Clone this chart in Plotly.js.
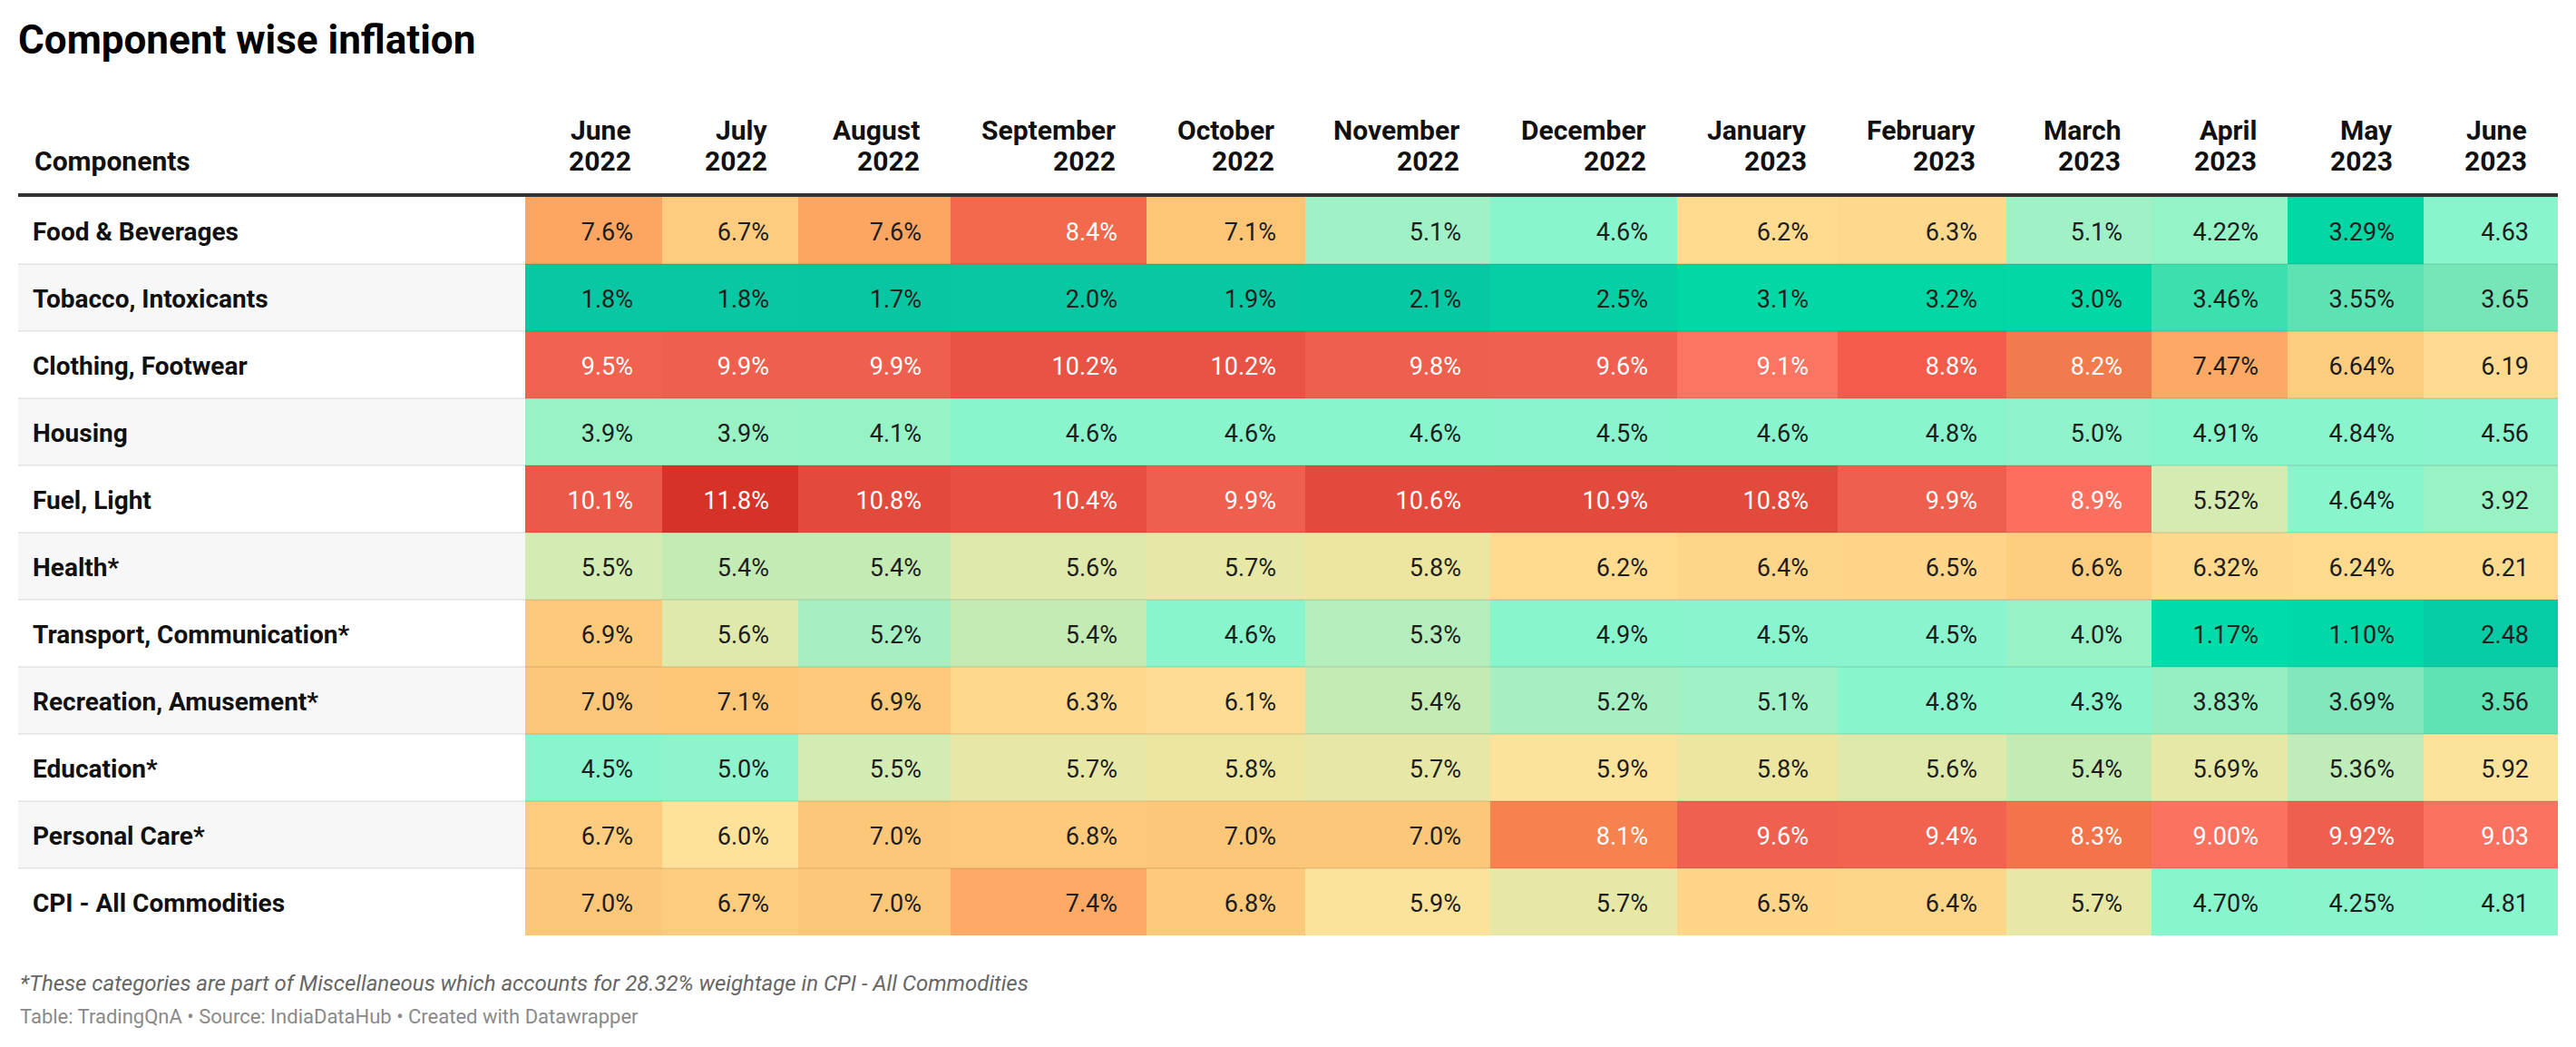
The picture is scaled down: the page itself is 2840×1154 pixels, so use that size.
<!DOCTYPE html>
<html>
<head>
<meta charset="utf-8">
<script src="https://cdn.plot.ly/plotly-3.0.1.min.js"></script>
<style>
html,body{margin:0;padding:0;background:#ffffff;}
#chart{width:2840px;height:1154px;}
</style>
</head>
<body>
<div id="chart"></div>
<script>
// ---------- DATA ----------
const components = [
  "Food & Beverages",
  "Tobacco, Intoxicants",
  "Clothing, Footwear",
  "Housing",
  "Fuel, Light",
  "Health*",
  "Transport, Communication*",
  "Recreation, Amusement*",
  "Education*",
  "Personal Care*",
  "CPI - All Commodities"
];
const months = [
  "June<br>2022", "July<br>2022", "August<br>2022", "September<br>2022",
  "October<br>2022", "November<br>2022", "December<br>2022", "January<br>2023",
  "February<br>2023", "March<br>2023", "April<br>2023", "May<br>2023", "June<br>2023"
];
const foodBeverages   = [7.6, 6.7, 7.6, 8.4, 7.1, 5.1, 4.6, 6.2, 6.3, 5.1, 4.22, 3.29, 4.63];
const tobacco         = [1.8, 1.8, 1.7, 2.0, 1.9, 2.1, 2.5, 3.1, 3.2, 3.0, 3.46, 3.55, 3.65];
const clothing        = [9.5, 9.9, 9.9, 10.2, 10.2, 9.8, 9.6, 9.1, 8.8, 8.2, 7.47, 6.64, 6.19];
const housing         = [3.9, 3.9, 4.1, 4.6, 4.6, 4.6, 4.5, 4.6, 4.8, 5.0, 4.91, 4.84, 4.56];
const fuelLight       = [10.1, 11.8, 10.8, 10.4, 9.9, 10.6, 10.9, 10.8, 9.9, 8.9, 5.52, 4.64, 3.92];
const health          = [5.5, 5.4, 5.4, 5.6, 5.7, 5.8, 6.2, 6.4, 6.5, 6.6, 6.32, 6.24, 6.21];
const transport       = [6.9, 5.6, 5.2, 5.4, 4.6, 5.3, 4.9, 4.5, 4.5, 4.0, 1.17, 1.10, 2.48];
const recreation      = [7.0, 7.1, 6.9, 6.3, 6.1, 5.4, 5.2, 5.1, 4.8, 4.3, 3.83, 3.69, 3.56];
const education       = [4.5, 5.0, 5.5, 5.7, 5.8, 5.7, 5.9, 5.8, 5.6, 5.4, 5.69, 5.36, 5.92];
const personalCare    = [6.7, 6.0, 7.0, 6.8, 7.0, 7.0, 8.1, 9.6, 9.4, 8.3, 9.00, 9.92, 9.03];
const cpiAll          = [7.0, 6.7, 7.0, 7.4, 6.8, 5.9, 5.7, 6.5, 6.4, 5.7, 4.70, 4.25, 4.81];

const headerLabel = "Components";
const titleText = "Component wise inflation";
const footnoteText = "*These categories are part of Miscellaneous which accounts for 28.32% weightage in CPI - All Commodities";
const sourceText = "Table: TradingQnA • Source: IndiaDataHub • Created with Datawrapper";

// ---------- LAYOUT CONSTANTS (pixels) ----------
const W = 2840, H = 1154;
const colEdges = [579, 730, 880, 1048, 1264, 1439, 1643, 1849, 2026, 2212, 2372, 2522, 2672, 2820];
const tableLeft = 20, tableRight = 2820;
const rowTop = 217, rowH = 74;
const cellPad = 32;
const textShift = 4;              // optical centring of text in rows
const headerLineY = [143, 177];   // anchors of the two header lines

// colour scale stops [value, colour]
const colourStops = [
  [1.10, "#00d9a7"], [1.17, "#00dca9"], [1.7, "#08c6a1"], [2.1, "#06c9a3"],
  [2.48, "#05cca5"], [2.5, "#05cfa5"], [3.0, "#02d8a6"], [3.29, "#00d7a5"],
  [3.46, "#3ce0ad"], [3.55, "#5de3b3"], [3.65, "#76e6b9"], [3.69, "#80e8bc"],
  [3.83, "#96efc3"], [3.9, "#98f2c4"], [4.22, "#94f3c7"], [4.25, "#8af4cd"],
  [4.91, "#88f5cd"], [5.0, "#8ff4cb"], [5.1, "#a0f1c6"], [5.2, "#a5efc2"],
  [5.3, "#b5edbd"], [5.4, "#c5ebb5"], [5.5, "#d3ecb3"], [5.6, "#dfe9ac"],
  [5.7, "#e7e8a5"], [5.8, "#ede6a0"], [5.9, "#fbe39c"], [6.0, "#fee29a"],
  [6.1, "#fddd95"], [6.2, "#fedb8f"], [6.4, "#fed68a"], [6.5, "#fed589"],
  [6.6, "#fdce80"], [6.8, "#fdca7c"], [7.1, "#fdc677"], [7.4, "#fcaa66"],
  [7.6, "#fca662"], [8.1, "#f6824f"], [8.2, "#f27b4d"], [8.3, "#f3744b"],
  [8.4, "#f3694b"], [8.8, "#f35c4b"], [8.9, "#fc6f5e"], [9.1, "#fc7462"],
  [9.4, "#f2634f"], [9.6, "#f06050"], [9.9, "#ef5f4d"], [10.1, "#eb5a48"],
  [10.2, "#e95345"], [10.4, "#e64f41"], [10.6, "#e3493c"], [10.9, "#e24a3c"],
  [11.8, "#d63228"]
];
const zmin = colourStops[0][0], zmax = colourStops[colourStops.length - 1][0];
const colorscale = colourStops.map(([v, c]) => [(v - zmin) / (zmax - zmin), c]);

// ---------- BUILD ----------
const z = [foodBeverages, tobacco, clothing, housing, fuelLight, health,
           transport, recreation, education, personalCare, cpiAll];
const nRows = components.length, nCols = months.length;
const rowEdges = Array.from({length: nRows + 1}, (_, i) => rowTop + i * rowH);
const rowCenter = i => rowTop + i * rowH + rowH / 2 + textShift;

const fmt = (v, j) => v.toFixed(j >= 10 ? 2 : 1) + (j === nCols - 1 ? "" : "%");

const cx = [], cy = [], ct = [], cc = [];
z.forEach((row, i) => row.forEach((v, j) => {
  cx.push(colEdges[j + 1] - cellPad);
  cy.push(rowCenter(i));
  ct.push(fmt(v, j));
  cc.push(v >= 8 ? "#ffffff" : "#1d1d1d");
}));

const FONT = "Roboto, 'Noto Sans', sans-serif";

const traces = [
  {
    type: "heatmap",
    x: colEdges, y: rowEdges, z: z,
    colorscale: colorscale, zmin: zmin, zmax: zmax,
    showscale: false, hoverinfo: "skip", zsmooth: false
  },
  {
    type: "scatter", mode: "text",
    x: cx, y: cy, text: ct,
    textposition: "middle left",
    textfont: {family: FONT, size: 27, color: cc},
    hoverinfo: "skip", cliponaxis: false, showlegend: false
  },
  {
    type: "scatter", mode: "text",
    x: components.map(() => 36), y: components.map((_, i) => rowCenter(i)),
    text: components,
    textposition: "middle right",
    textfont: {family: FONT, size: 28, color: "#111111", weight: 700},
    hoverinfo: "skip", cliponaxis: false, showlegend: false
  }
];

const shapes = [];
components.forEach((_, i) => {
  if (i % 2 === 1) {
    shapes.push({type: "rect", layer: "below", xref: "x", yref: "y",
      x0: tableLeft, x1: colEdges[0], y0: rowEdges[i], y1: rowEdges[i + 1],
      fillcolor: "#f7f7f7", line: {width: 0}});
  }
});
for (let i = 1; i < nRows; i++) {
  shapes.push({type: "line", layer: "above", xref: "x", yref: "y",
    x0: tableLeft, x1: tableRight, y0: rowEdges[i], y1: rowEdges[i],
    line: {color: "rgba(0,0,0,0.07)", width: 2}});
}
shapes.push({type: "line", layer: "above", xref: "x", yref: "y",
  x0: tableLeft, x1: tableRight, y0: 215, y1: 215,
  line: {color: "#333333", width: 4}});

const headFont = {family: FONT, size: 30, color: "#111111", weight: 700};
const annotations = [];
months.forEach((m, j) => {
  m.split("<br>").forEach((line, k) => {
    annotations.push({xref: "x", yref: "y", x: colEdges[j + 1] - cellPad, y: headerLineY[k],
      xanchor: "right", yanchor: "middle", align: "right", showarrow: false,
      text: line, font: headFont});
  });
});
annotations.push({xref: "x", yref: "y", x: 36, y: headerLineY[1], xanchor: "left", yanchor: "middle",
  showarrow: false, text: headerLabel, font: headFont});
annotations.push({xref: "x", yref: "y", x: 20, y: 1084, xanchor: "left", yanchor: "middle",
  showarrow: false, text: footnoteText,
  font: {family: FONT, size: 24, color: "#666666", style: "italic"}});
annotations.push({xref: "x", yref: "y", x: 20, y: 1120, xanchor: "left", yanchor: "middle",
  showarrow: false, text: sourceText,
  font: {family: FONT, size: 22, color: "#8a8a8a"}});

const layout = {
  width: W, height: H,
  margin: {l: 0, r: 0, t: 0, b: 0, pad: 0},
  paper_bgcolor: "#ffffff", plot_bgcolor: "#ffffff",
  title: {
    text: titleText,
    font: {family: FONT, size: 44, color: "#000000", weight: 700},
    xref: "container", yref: "container",
    x: 20 / W, xanchor: "left",
    y: 1 - 44 / H, yanchor: "middle"
  },
  xaxis: {range: [0, W], visible: false, fixedrange: true},
  yaxis: {range: [H, 0], visible: false, fixedrange: true},
  shapes: shapes,
  annotations: annotations,
  showlegend: false,
  hovermode: false
};

Plotly.newPlot("chart", traces, layout, {displayModeBar: false, staticPlot: true});
</script>
</body>
</html>
